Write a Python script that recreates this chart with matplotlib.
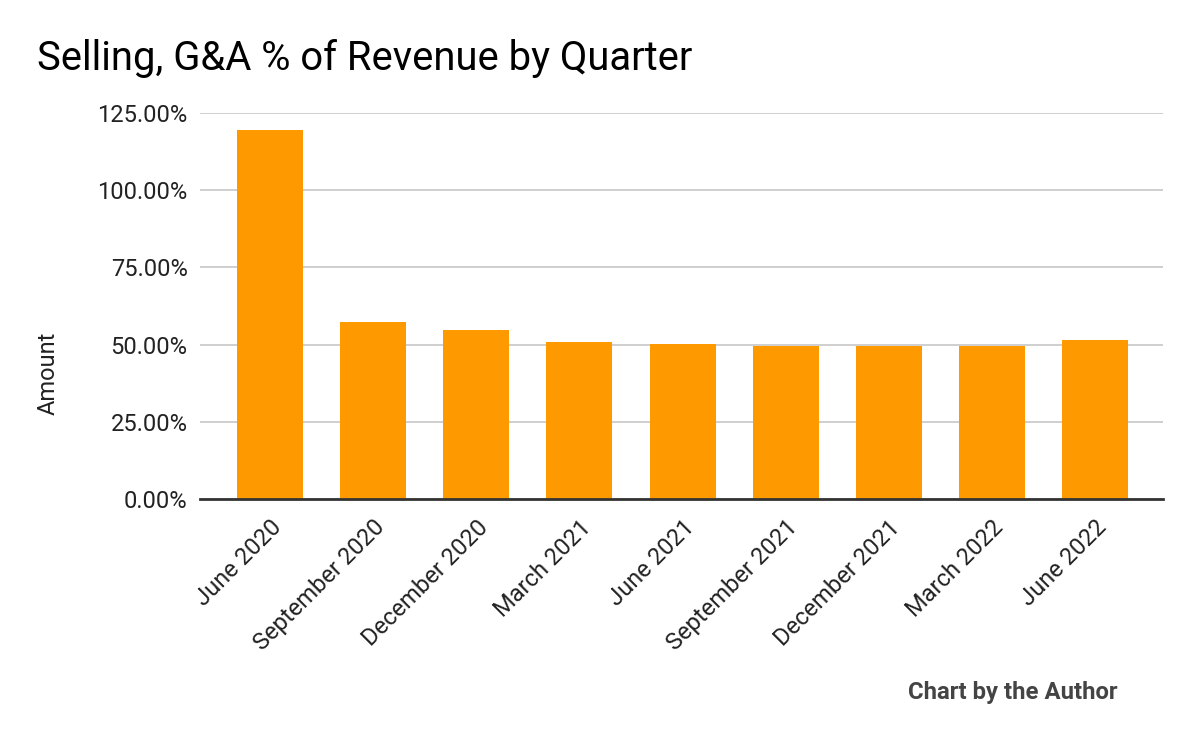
import matplotlib
matplotlib.use("Agg")
import matplotlib.pyplot as plt
from matplotlib.ticker import FuncFormatter

plt.rcParams['font.family'] = ['Roboto', 'DejaVu Sans']

quarters = ["June 2020", "September 2020", "December 2020", "March 2021", "June 2021",
            "September 2021", "December 2021", "March 2022", "June 2022"]
sga_pct = [119.5, 57.3, 54.7, 50.8, 50.2, 49.5, 49.5, 49.5, 51.5]
yticks = [0, 25, 50, 75, 100, 125]

fig = plt.figure(figsize=(12, 7.42), dpi=100)
ax = fig.add_axes([200/1200, 1-499/742, (1163-200)/1200, (499-113)/742])

x = list(range(len(quarters)))
ax.bar(x, sga_pct, width=0.64, color="#ff9900", zorder=3)
ax.set_xlim(-0.68, len(quarters)-1+0.66)
ax.set_ylim(0, 125)
ax.set_yticks(yticks)
ax.yaxis.set_major_formatter(FuncFormatter(lambda v, p: f"{v:.2f}%"))
ax.grid(axis='y', color="#cccccc", linewidth=1.3, zorder=0)
for s in ['top', 'right', 'left']:
    ax.spines[s].set_visible(False)
ax.spines['bottom'].set_color("#333333")
ax.spines['bottom'].set_linewidth(2)
ax.spines['bottom'].set_zorder(4)
ax.tick_params(axis='both', length=0, labelsize=17, labelcolor="#222222")
ax.tick_params(axis='y', pad=9)
ax.set_xticks(x)
ax.set_xticklabels(quarters, rotation=45, ha='right', rotation_mode='anchor')
ax.tick_params(axis='x', pad=12)

fig.text(48/1200, 1-373/742, "Amount", fontsize=17, color="#222222",
         rotation=90, va='center', ha='center')
fig.text(37/1200, 1-70/742, "Selling, G&A % of Revenue by Quarter", fontsize=28.8,
         color="#000000", va='baseline', ha='left')
fig.text(1118/1200, 1-692/742, "Chart by the Author", fontsize=17.2, fontweight='bold',
         color="#444444", va='center', ha='right')

fig.savefig("out.png", dpi=100)
